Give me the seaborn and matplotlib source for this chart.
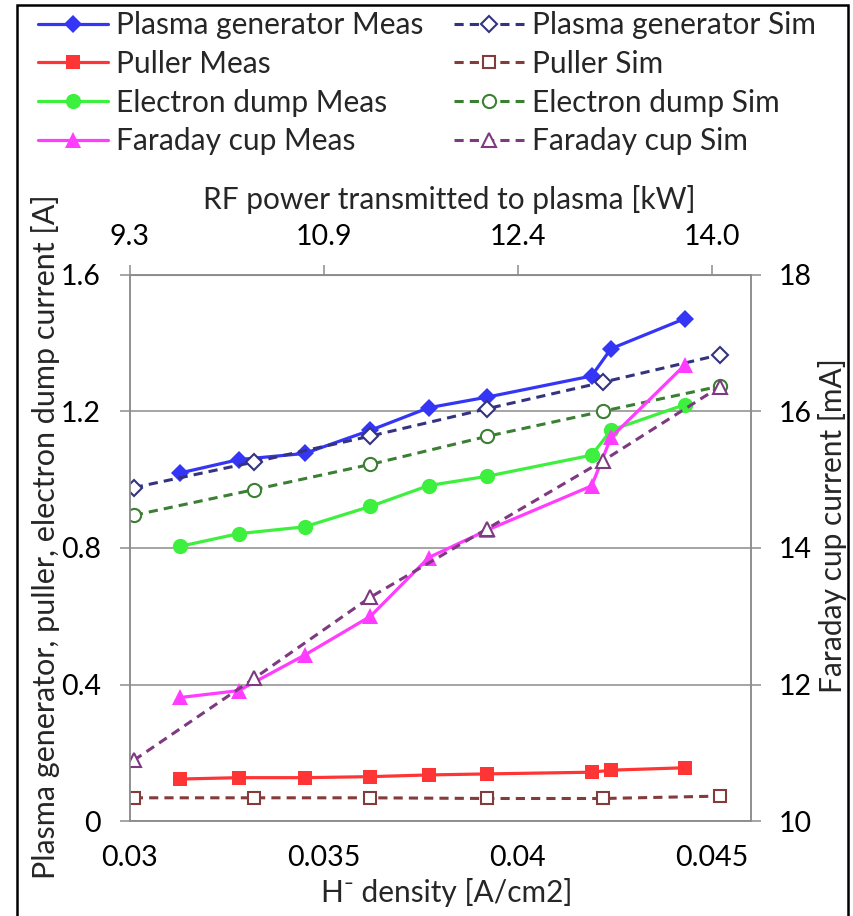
import matplotlib

matplotlib.use("Agg")
import matplotlib.pyplot as plt
import seaborn as sns
from matplotlib.patches import Rectangle

# --- Data ---
density_meas = [0.0313, 0.0328, 0.0345, 0.0362, 0.0377, 0.0392, 0.0419, 0.0424, 0.0443]
density_sim = [0.0301, 0.0332, 0.0362, 0.0392, 0.0422, 0.0452]

plasma_meas = [1.020, 1.059, 1.077, 1.145, 1.211, 1.242, 1.304, 1.384, 1.472]
puller_meas = [0.123, 0.127, 0.127, 0.130, 0.135, 0.138, 0.143, 0.149, 0.156]
dump_meas = [0.805, 0.842, 0.862, 0.922, 0.983, 1.010, 1.072, 1.145, 1.220]
faraday_meas = [11.81, 11.91, 12.43, 13.00, 13.86, 14.26, 14.91, 15.62, 16.68]

plasma_sim = [0.977, 1.052, 1.128, 1.208, 1.286, 1.366]
puller_sim = [0.068, 0.068, 0.068, 0.066, 0.066, 0.073]
dump_sim = [0.896, 0.971, 1.045, 1.127, 1.201, 1.274]
faraday_sim = [10.89, 12.09, 13.28, 14.28, 15.28, 16.36]

x_ticks = [0.03, 0.035, 0.04, 0.045]
x_tick_labels = ["0.03", "0.035", "0.04", "0.045"]
power_tick_labels = ["9.3", "10.9", "12.4", "14.0"]
left_ticks = [0, 0.4, 0.8, 1.2, 1.6]
left_tick_labels = ["0", "0.4", "0.8", "1.2", "1.6"]
right_ticks = [10, 12, 14, 16, 18]

FONT = ["Lato", "DejaVu Sans"]
GRAY = "#8c8c8c"
TICK_FS = 20.5
LABEL_FS = 21.5

sns.set_style("white")
plt.rcParams["font.family"] = FONT

fig = plt.figure(figsize=(8.54, 9.16), dpi=100)
ax = fig.add_axes([0.1522, 0.1037, 0.7268, 0.5961])
ax2 = ax.twinx()

meas_style = dict(linewidth=2.3, markeredgewidth=0, linestyle="-")
sim_style = dict(linewidth=2.2, markerfacecolor="white", markeredgewidth=1.5,
                 linestyle=(0, (3, 2)))

series = [
    # (axis, x, y, label, colour, marker, size, style)
    (ax, density_meas, plasma_meas, "Plasma generator Meas", "#3535f5", "D", 9.5, meas_style),
    (ax, density_meas, puller_meas, "Puller Meas", "#ff3535", "s", 10, meas_style),
    (ax, density_meas, dump_meas, "Electron dump Meas", "#3ef03e", "o", 11, meas_style),
    (ax2, density_meas, faraday_meas, "Faraday cup Meas", "#ff3cff", "^", 11, meas_style),
    (ax, density_sim, plasma_sim, "Plasma generator Sim", "#33337f", "D", 8, sim_style),
    (ax, density_sim, puller_sim, "Puller Sim", "#843b3b", "s", 9, sim_style),
    (ax, density_sim, dump_sim, "Electron dump Sim", "#3b7f33", "o", 9.5, sim_style),
    (ax2, density_sim, faraday_sim, "Faraday cup Sim", "#7d3a80", "^", 9.5, sim_style),
]

handles = []
for target, xs, ys, label, colour, marker, size, style in series:
    sns.lineplot(x=xs, y=ys, ax=target, color=colour, marker=marker,
                 markersize=size, markeredgecolor=colour, sort=False,
                 legend=False, label=label, **style)
    handles.append(target.lines[-1])
for a in (ax, ax2):
    if a.get_legend() is not None:
        a.get_legend().remove()

# axes limits / ticks
ax.set_xlim(0.03, 0.046)
ax.set_ylim(0, 1.6)
ax2.set_ylim(10, 18)
ax.set_xticks(x_ticks, labels=x_tick_labels)
ax.set_yticks(left_ticks, labels=left_tick_labels)
ax2.set_yticks(right_ticks)

ax.yaxis.grid(True, color=GRAY, linewidth=1.1)
ax.xaxis.grid(False)
for a in (ax, ax2):
    for sp in a.spines.values():
        sp.set_color(GRAY)
        sp.set_linewidth(1.1)
    a.tick_params(direction="out", length=7, width=1.1, color=GRAY,
                  labelsize=TICK_FS, labelcolor="black")
ax.tick_params(axis="y", pad=14)
ax.tick_params(axis="x", pad=10)
ax2.tick_params(axis="y", pad=13)

top = ax.secondary_xaxis("top")
top.set_xticks(x_ticks, labels=power_tick_labels)
top.tick_params(direction="out", length=7, width=1.1, color=GRAY,
                labelsize=TICK_FS, labelcolor="black", pad=11)
top.spines["top"].set_color(GRAY)
top.set_xlabel("RF power transmitted to plasma [kW]", fontsize=LABEL_FS, labelpad=11)
top.xaxis.label.set_x(0.514)

ax.set_xlabel("H\u207b density [A/cm2]", fontsize=LABEL_FS, family=FONT)
ax.xaxis.set_label_coords(0.511, -0.104)
ax.set_ylabel("Plasma generator, puller, electron dump current [A]", fontsize=22)
ax.yaxis.set_label_coords(-0.112, 0.521)
ax2.set_ylabel("Faraday cup current [mA]", fontsize=LABEL_FS)
ax2.yaxis.set_label_coords(1.109, 0.542)

fig.legend(handles=handles, labels=[s[3] for s in series], ncol=2,
           loc="upper left", bbox_to_anchor=(0.037, 0.995), frameon=False,
           fontsize=LABEL_FS, handlelength=2.35, handletextpad=0.25,
           labelspacing=0.36, columnspacing=1.03, borderaxespad=0, borderpad=0.22)

# black frame around the chart area
fig.patches.append(Rectangle((0.0199, -0.05), 0.973, 1.0445, transform=fig.transFigure,
                             fill=False, edgecolor="black", linewidth=1.8))

fig.savefig("out.png", dpi=100)
